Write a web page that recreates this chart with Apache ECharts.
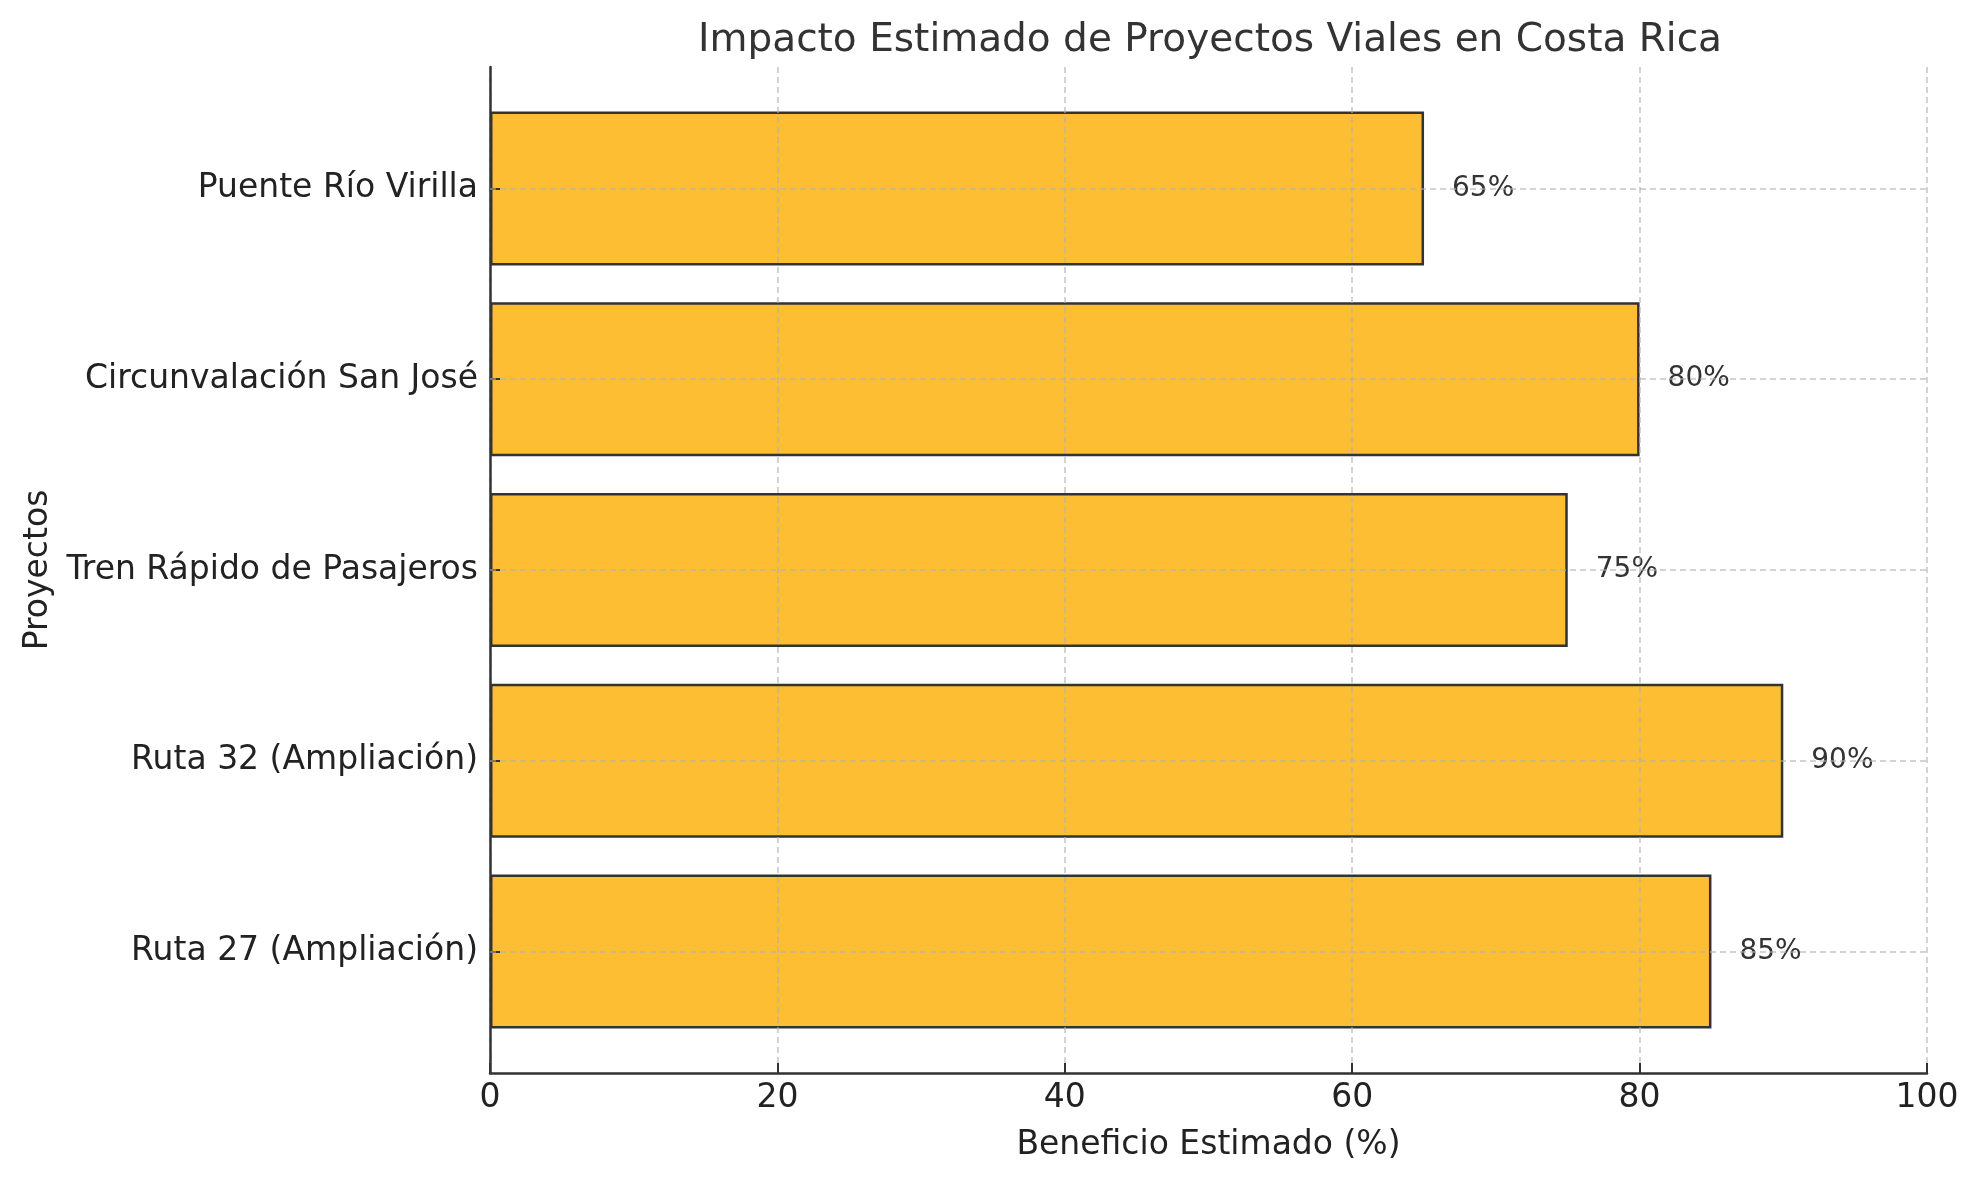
<!DOCTYPE html>
<html>
<head>
<meta charset="utf-8">
<title>Impacto Estimado de Proyectos Viales</title>
<script src="https://cdn.jsdelivr.net/npm/echarts@6/dist/echarts.min.js"></script>
<style>
  html, body { margin:0; padding:0; background:#fff; }
  #chart { width:1979px; height:1180px; }
</style>
</head>
<body>
<div id="chart"></div>
<script>
var titleText = 'Impacto Estimado de Proyectos Viales en Costa Rica';
var projects = ['Ruta 27 (Ampliación)', 'Ruta 32 (Ampliación)', 'Tren Rápido de Pasajeros', 'Circunvalación San José', 'Puente Río Virilla'];
var benefits = [85, 90, 75, 80, 65];
var xMin = 0, xMax = 100, xStep = 20;

var FONT = 'DejaVu Sans';
var BAR_COLOR = '#FEBE33';
var EDGE = '#333333';
var GRID_LINE = 'rgba(176,176,176,0.75)';

window.onload = function() {
  setChart();
}

function setChart() {
  var chart = echarts.init(document.getElementById('chart'));

  // lineas horizontales de la rejilla, una por proyecto
  var hLines = [];
  for (var i in projects) {
    hLines.push({ yAxis: projects[i] });
  }

  var option = {
    animation: false,
    title: {
      text: titleText,
      left: 1205,
      top: 16,
      textAlign: 'center',
      textStyle: { fontFamily: FONT, fontSize: 39, fontWeight: 'normal', color: '#333' }
    },
    grid: [
      // marco completo: ejes y rejilla vertical
      { left: 490, right: 52, top: 67, bottom: 107 },
      // barras (margen de matplotlib en los extremos)
      { left: 490, right: 52, top: 93, bottom: 133 }
    ],
    xAxis: [
      {
        gridIndex: 0, type: 'value', min: xMin, max: xMax, interval: xStep, z: 3,
        name: 'Beneficio Estimado (%)', nameLocation: 'middle', nameGap: 56,
        nameTextStyle: { fontFamily: FONT, fontSize: 33, color: '#222' },
        axisLine: { show: true, lineStyle: { color: EDGE, width: 2.5 } },
        axisTick: { show: true, inside: true, length: 10, lineStyle: { color: EDGE, width: 2 } },
        axisLabel: { fontFamily: FONT, fontSize: 33, color: '#222', margin: 9 },
        splitLine: { show: true, lineStyle: { color: GRID_LINE, width: 1.5, type: [6, 4] } }
      },
      {
        gridIndex: 1, type: 'value', min: xMin, max: xMax, show: false
      }
    ],
    yAxis: [
      {
        gridIndex: 0, type: 'value', min: 0, max: 1, z: 3,
        name: 'Proyectos', nameLocation: 'middle', nameGap: 435, nameRotate: 90,
        nameTextStyle: { fontFamily: FONT, fontSize: 33, color: '#222' },
        axisLine: { show: true, lineStyle: { color: EDGE, width: 2.5 } },
        axisTick: { show: false },
        axisLabel: { show: false },
        splitLine: { show: false }
      },
      {
        gridIndex: 1, type: 'category', data: projects, z: 3,
        axisLine: { show: false },
        axisTick: { show: true, inside: true, length: 10, alignWithLabel: true, lineStyle: { color: EDGE, width: 2 } },
        axisLabel: { fontFamily: FONT, fontSize: 33, color: '#222', margin: 12 },
        splitLine: { show: false }
      }
    ],
    series: [{
      type: 'bar',
      xAxisIndex: 1,
      yAxisIndex: 1,
      data: benefits,
      barWidth: 154,
      itemStyle: { color: BAR_COLOR, borderColor: EDGE, borderWidth: 2.5 },
      label: {
        show: true,
        position: 'right',
        distance: 28,
        formatter: '{c}%',
        fontFamily: FONT,
        fontSize: 28,
        color: '#333'
      },
      markLine: {
        silent: true,
        symbol: 'none',
        label: { show: false },
        lineStyle: { color: GRID_LINE, width: 1.5, type: [6, 4] },
        data: hLines
      }
    }]
  };

  chart.setOption(option);
}
</script>
</body>
</html>
